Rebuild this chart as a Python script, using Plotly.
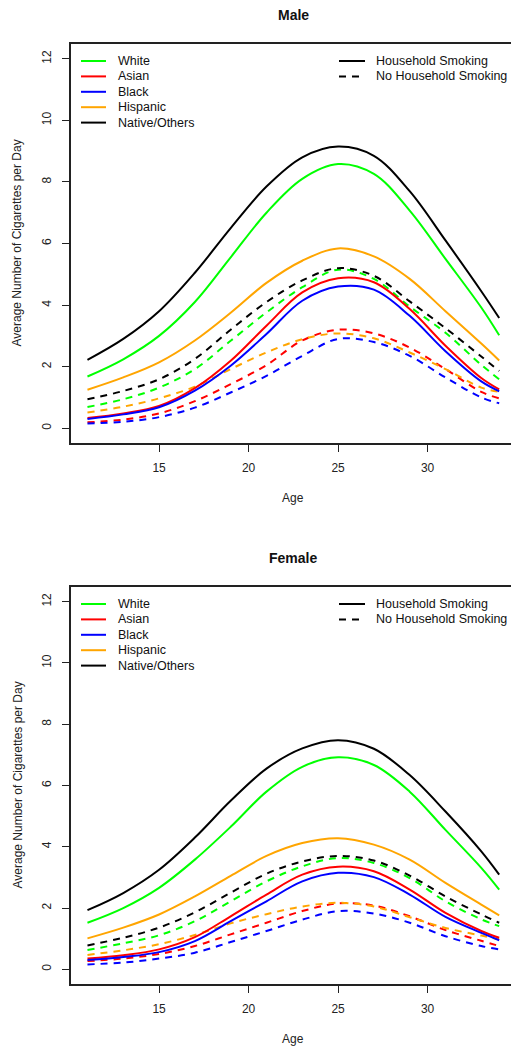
import plotly.graph_objects as go

W, H = 511, 1049

AGES = [11, 13, 15, 17, 19, 21, 23, 25, 27, 29, 31, 33, 34]
GROUPS = ["White", "Asian", "Black", "Hispanic", "Native/Others"]
COLORS = ["#00FF00", "#FF0000", "#0000FF", "#FFA500", "#000000"]
Y_TICKS = [0, 2, 4, 6, 8, 10, 12]
X_TICKS = [15, 20, 25, 30]

# ---- Male: household smoking (solid) ----
M_WHITE_HS = [1.68, 2.24, 3.0, 4.1, 5.55, 7.0, 8.1, 8.58, 8.26, 7.07, 5.5, 3.92, 3.02]
M_ASIAN_HS = [0.33, 0.48, 0.72, 1.3, 2.19, 3.33, 4.41, 4.87, 4.74, 3.87, 2.68, 1.63, 1.26]
M_BLACK_HS = [0.3, 0.45, 0.68, 1.22, 2.03, 3.06, 4.14, 4.6, 4.5, 3.65, 2.5, 1.52, 1.2]
M_HISP_HS = [1.25, 1.65, 2.14, 2.85, 3.75, 4.72, 5.44, 5.84, 5.58, 4.85, 3.8, 2.75, 2.2]
M_NATIVE_HS = [2.22, 2.9, 3.8, 5.05, 6.5, 7.85, 8.8, 9.15, 8.85, 7.7, 6.1, 4.45, 3.58]
# ---- Male: no household smoking (dashed) ----
M_WHITE_NO = [0.69, 0.94, 1.32, 1.92, 2.84, 3.76, 4.58, 5.15, 4.85, 3.95, 3.1, 2.06, 1.59]
M_ASIAN_NO = [0.19, 0.28, 0.48, 0.88, 1.43, 2.05, 2.85, 3.2, 3.08, 2.62, 1.92, 1.18, 0.97]
M_BLACK_NO = [0.15, 0.21, 0.36, 0.67, 1.16, 1.7, 2.35, 2.9, 2.8, 2.35, 1.65, 1.0, 0.81]
M_HISP_NO = [0.51, 0.7, 0.97, 1.35, 1.92, 2.46, 2.89, 3.08, 2.92, 2.46, 1.92, 1.32, 1.18]
M_NATIVE_NO = [0.94, 1.21, 1.59, 2.25, 3.2, 4.1, 4.8, 5.2, 4.95, 4.12, 3.25, 2.33, 1.86]

# ---- Female: household smoking (solid) ----
F_WHITE_HS = [1.52, 2.0, 2.66, 3.58, 4.65, 5.8, 6.61, 6.92, 6.67, 5.8, 4.55, 3.31, 2.6]
F_ASIAN_HS = [0.35, 0.46, 0.65, 1.05, 1.73, 2.44, 3.09, 3.35, 3.2, 2.6, 1.84, 1.25, 1.03]
F_BLACK_HS = [0.3, 0.4, 0.56, 0.92, 1.57, 2.22, 2.87, 3.15, 3.01, 2.44, 1.71, 1.19, 0.95]
F_HISP_HS = [1.01, 1.36, 1.79, 2.38, 3.05, 3.7, 4.12, 4.28, 4.07, 3.58, 2.82, 2.11, 1.76]
F_NATIVE_HS = [1.93, 2.49, 3.25, 4.3, 5.5, 6.55, 7.21, 7.48, 7.2, 6.34, 5.15, 3.85, 3.09]
# ---- Female: no household smoking (dashed) ----
F_WHITE_NO = [0.63, 0.85, 1.11, 1.57, 2.22, 2.87, 3.36, 3.63, 3.47, 2.98, 2.22, 1.63, 1.41]
F_ASIAN_NO = [0.27, 0.35, 0.5, 0.76, 1.14, 1.52, 1.9, 2.15, 2.08, 1.73, 1.28, 0.93, 0.76]
F_BLACK_NO = [0.16, 0.22, 0.35, 0.54, 0.89, 1.25, 1.62, 1.9, 1.82, 1.52, 1.08, 0.76, 0.65]
F_HISP_NO = [0.47, 0.62, 0.82, 1.12, 1.5, 1.8, 2.05, 2.17, 2.05, 1.7, 1.35, 1.1, 0.98]
F_NATIVE_NO = [0.78, 1.03, 1.36, 1.86, 2.5, 3.12, 3.52, 3.7, 3.55, 3.06, 2.38, 1.79, 1.52]

MALE_HS = [M_WHITE_HS, M_ASIAN_HS, M_BLACK_HS, M_HISP_HS, M_NATIVE_HS]
MALE_NO = [M_WHITE_NO, M_ASIAN_NO, M_BLACK_NO, M_HISP_NO, M_NATIVE_NO]
FEMALE_HS = [F_WHITE_HS, F_ASIAN_HS, F_BLACK_HS, F_HISP_HS, F_NATIVE_HS]
FEMALE_NO = [F_WHITE_NO, F_ASIAN_NO, F_BLACK_NO, F_HISP_NO, F_NATIVE_NO]

FONT = "Liberation Sans, Arial, Helvetica, sans-serif"
DASH = "7px,6px"


def fx(p):
    return p / W


def fy(p):
    return 1 - p / H


fig = go.Figure()

panels = [
    ("Male", MALE_HS, MALE_NO, "x", "y", 44, 443),
    ("Female", FEMALE_HS, FEMALE_NO, "x2", "y2", 587, 984),
]

for title, hs, no, xa, ya, top, bot in panels:
    for vals, col, name in zip(no, COLORS, GROUPS):
        fig.add_trace(go.Scatter(x=AGES, y=vals, mode="lines", xaxis=xa, yaxis=ya,
                                 line=dict(color=col, width=2, dash=DASH, shape="spline"),
                                 name=name + " (no household smoking)", showlegend=False))
    for vals, col, name in zip(hs, COLORS, GROUPS):
        fig.add_trace(go.Scatter(x=AGES, y=vals, mode="lines", xaxis=xa, yaxis=ya,
                                 line=dict(color=col, width=2, shape="spline"),
                                 name=name + " (household smoking)", showlegend=False))

axis_common = dict(showgrid=False, zeroline=False, showline=True, linecolor="#222",
                   linewidth=1.5, ticks="outside", ticklen=7, tickwidth=1.2,
                   tickcolor="#222", tickfont=dict(family=FONT, size=12, color="#222"))

XRANGE = [10.08, 34.66]
YRANGE = [-0.48, 12.48]

layout = dict(width=W, height=H, margin=dict(l=0, r=0, t=0, b=0),
              paper_bgcolor="white", plot_bgcolor="white", showlegend=False)

shapes = []
annotations = []

for i, (title, hs, no, xa, ya, top, bot) in enumerate(panels):
    sfx = "" if i == 0 else "2"
    layout["xaxis" + sfx] = dict(axis_common, domain=[fx(71), 1.0], range=XRANGE,
                                 tickvals=X_TICKS, mirror=True, anchor="y" + sfx,
                                 ticklabelstandoff=6)
    layout["yaxis" + sfx] = dict(axis_common, domain=[fy(bot), fy(top)], range=YRANGE,
                                 tickvals=Y_TICKS, tickangle=-90, anchor="x" + sfx,
                                 ticklabelstandoff=6)
    annotations.append(dict(text="<b>" + title + "</b>", x=fx(293), y=fy(top - 29),
                            xref="paper", yref="paper", showarrow=False,
                            xanchor="center", yanchor="middle",
                            font=dict(family=FONT, size=14, color="#111")))
    annotations.append(dict(text="Age", x=fx(293), y=fy(bot + 55),
                            xref="paper", yref="paper", showarrow=False,
                            xanchor="center", yanchor="middle",
                            font=dict(family=FONT, size=12, color="#222")))
    annotations.append(dict(text="Average Number of Cigarettes per Day", x=fx(17),
                            y=fy((top + bot) / 2), xref="paper", yref="paper",
                            showarrow=False, textangle=-90, xanchor="center",
                            yanchor="middle", font=dict(family=FONT, size=12, color="#222")))
    for k, (g, c) in enumerate(zip(GROUPS, COLORS)):
        yy = top + 17 + k * 15.4
        shapes.append(dict(type="line", xref="paper", yref="paper", x0=fx(81), x1=fx(106),
                           y0=fy(yy), y1=fy(yy), line=dict(color=c, width=2)))
        annotations.append(dict(text=g, x=fx(116), y=fy(yy), xref="paper", yref="paper",
                                showarrow=False, xanchor="left", yanchor="middle",
                                font=dict(family=FONT, size=12.5, color="#111")))
    for k, (lab, d) in enumerate([("Household Smoking", "solid"),
                                  ("No Household Smoking", DASH)]):
        yy = top + 17 + k * 15.4
        shapes.append(dict(type="line", xref="paper", yref="paper", x0=fx(339), x1=fx(365),
                           y0=fy(yy), y1=fy(yy), line=dict(color="black", width=2, dash=d)))
        annotations.append(dict(text=lab, x=fx(374), y=fy(yy), xref="paper", yref="paper",
                                showarrow=False, xanchor="left", yanchor="middle",
                                font=dict(family=FONT, size=12.5, color="#111")))

layout["shapes"] = shapes
layout["annotations"] = annotations
fig.update_layout(**layout)

fig.write_html(
    "out.html",
    config={"displayModeBar": False},
    post_script="document.documentElement.style.margin='0';"
                "document.body.style.margin='0';document.body.style.padding='0';"
                "document.documentElement.style.overflow='hidden';",
)
